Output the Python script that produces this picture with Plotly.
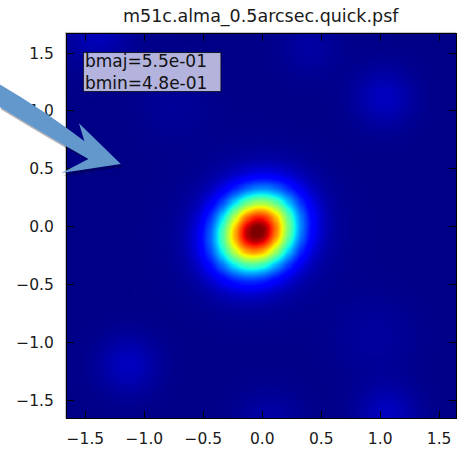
import numpy as np
import plotly.graph_objects as go

# ---- figure text -------------------------------------------------------
title_text = "m51c.alma_0.5arcsec.quick.psf"
beam_label = "bmaj=5.5e-01<br>bmin=4.8e-01"

# ---- restoring beam (FWHM, arcsec) ---------------------------------------
bmaj = 0.55
bmin = 0.48
beam_pa_deg = 45.0
beam_x0 = -0.05
beam_y0 = -0.04
# broad low-level wing of the dirty beam around the main lobe
wing_amp = 0.045
wing_sigma = 0.40

# ---- faint sidelobe pattern of the synthesized beam ----------------------
lobe_x = [1.03, -1.14, 1.06, -1.40, 0.05, 0.95, 0.40, -0.75]
lobe_y = [1.12, -1.19, -1.62, 1.68, -1.70, -0.95, 1.55, 1.05]
lobe_amp = [0.050, 0.050, 0.050, 0.045, 0.030, 0.020, 0.025, 0.015]
lobe_sigma = [0.18, 0.18, 0.18, 0.20, 0.20, 0.25, 0.18, 0.22]
floor_level = -0.024

# ---- axes ----------------------------------------------------------------
x_extent = [-1.656, 1.643]
y_extent = [-1.654, 1.665]
tick_vals = [-1.5, -1.0, -0.5, 0.0, 0.5, 1.0, 1.5]
tick_text = ["\u22121.5", "\u22121.0", "\u22120.5", "0.0", "0.5", "1.0", "1.5"]
z_low, z_high = -0.03, 1.0

# ---- PSF image -----------------------------------------------------------
n = 181
xs = np.linspace(x_extent[0], x_extent[1], n)
ys = np.linspace(y_extent[0], y_extent[1], n)
X, Y = np.meshgrid(xs, ys)
fwhm_to_sigma = 1.0 / (2.0 * np.sqrt(2.0 * np.log(2.0)))
s_maj = bmaj * fwhm_to_sigma
s_min = bmin * fwhm_to_sigma
pa = np.radians(beam_pa_deg)
dx, dy = X - beam_x0, Y - beam_y0
u = dx * np.cos(pa) + dy * np.sin(pa)
v = -dx * np.sin(pa) + dy * np.cos(pa)
Z = np.exp(-(u ** 2 / (2 * s_maj ** 2) + v ** 2 / (2 * s_min ** 2)))
Z = Z + wing_amp * np.exp(-(dx ** 2 + dy ** 2) / (2 * wing_sigma ** 2))
Z = Z + floor_level
for lx, ly, la, ls in zip(lobe_x, lobe_y, lobe_amp, lobe_sigma):
    Z = Z + la * np.exp(-((X - lx) ** 2 + (Y - ly) ** 2) / (2 * ls ** 2))


# matplotlib-style "jet" colour map
def jet_colorscale():
    red = [(0, 0), (0.35, 0), (0.66, 1), (0.89, 1), (1, 0.5)]
    green = [(0, 0), (0.125, 0), (0.375, 1), (0.64, 1), (0.91, 0), (1, 0)]
    blue = [(0, 0.5), (0.11, 1), (0.34, 1), (0.65, 0), (1, 0)]
    stops = sorted({p for seg in (red, green, blue) for p, _ in seg})

    def chan(seg, t):
        return np.interp(t, [p for p, _ in seg], [v for _, v in seg])

    return [[t, "rgb(%d,%d,%d)" % (round(255 * chan(red, t)),
                                    round(255 * chan(green, t)),
                                    round(255 * chan(blue, t)))]
            for t in stops]


fig = go.Figure(go.Heatmap(
    x=xs, y=ys, z=Z,
    colorscale=jet_colorscale(), zmin=z_low, zmax=z_high,
    zsmooth="best", showscale=False, hoverinfo="skip",
))

# plot-area geometry in pixels
W_FIG, H_FIG = 466, 457
M_L, M_R, M_T, M_B = 66.5, 9, 34, 29.5
PW = W_FIG - M_L - M_R
PH = H_FIG - M_T - M_B


def to_paper(px, py):
    return (px - M_L) / PW, (H_FIG - M_B - py) / PH


def path_from_pixels(cmds):
    out = []
    for cmd in cmds:
        op, pts = cmd[0], cmd[1:]
        coords = []
        for (px, py) in pts:
            pu, pv = to_paper(px, py)
            coords.append("%.5f,%.5f" % (pu, pv))
        out.append(op + " " + " ".join(coords))
    return " ".join(out) + " Z"


# decorative pointer arrow on the left
arrow_cmds = [
    ("M", (-2, 85)),
    ("Q", (45, 113), (84, 144)),
    ("L", (78.5, 125.5)),
    ("L", (120.5, 167.3)),
    ("L", (61.0, 176.5)),
    ("L", (88, 162)),
    ("Q", (46, 138), (-2, 108)),
]
shadow_cmds = [(c[0],) + tuple((px + 2, py + 3) for px, py in c[1:]) for c in arrow_cmds]

# label box (pixel corners)
box_l, box_t = to_paper(83, 53)
box_r, box_b = to_paper(221, 93)

shapes = [
    dict(type="rect", xref="paper", yref="paper", x0=-0.004, x1=1.0, y0=0.0, y1=1.004,
         line=dict(color="rgba(120,120,120,0.45)", width=1), layer="below"),
    dict(type="rect", xref="paper", yref="paper", x0=box_l, x1=box_r, y0=box_b, y1=box_t,
         fillcolor="rgba(255,255,255,0.7)", line=dict(color="rgba(0,0,0,0.75)", width=1),
         layer="above"),
    dict(type="path", xref="paper", yref="paper", path=path_from_pixels(shadow_cmds),
         fillcolor="rgba(0,0,30,0.30)", line=dict(width=0), layer="above"),
    dict(type="path", xref="paper", yref="paper", path=path_from_pixels(arrow_cmds),
         fillcolor="rgb(98,152,204)", line=dict(width=0), layer="above"),
]

tx, ty = to_paper(261.7, 16)
lx, ly = to_paper(83.5, 73)

fig.update_layout(
    width=W_FIG, height=H_FIG,
    margin=dict(l=M_L, r=M_R, t=M_T, b=M_B, pad=0),
    paper_bgcolor="white", plot_bgcolor="white",
    font=dict(family="DejaVu Sans", size=15.5, color="#1a1a1a"),
    showlegend=False,
    shapes=shapes,
    annotations=[
        dict(text=title_text, xref="paper", yref="paper", x=tx, y=ty,
             xanchor="center", yanchor="middle", showarrow=False,
             font=dict(size=17.5, color="#1a1a1a")),
        dict(text=beam_label, xref="paper", yref="paper", x=lx, y=ly,
             xanchor="left", yanchor="middle", align="left", showarrow=False,
             borderpad=0, font=dict(size=17, color="#111")),
    ],
    xaxis=dict(range=x_extent, tickvals=tick_vals, ticktext=tick_text,
               ticks="inside", ticklen=7, tickcolor="black", tickwidth=1,
               showline=True, linecolor="black", linewidth=1, mirror="allticks",
               showgrid=False, zeroline=False, ticklabelstandoff=6),
    yaxis=dict(range=y_extent, tickvals=tick_vals, ticktext=tick_text,
               ticks="inside", ticklen=7, tickcolor="black", tickwidth=1,
               showline=True, linecolor="black", linewidth=1, mirror="allticks",
               showgrid=False, zeroline=False, ticklabelstandoff=9),
)

fig.write_html("out.html")
